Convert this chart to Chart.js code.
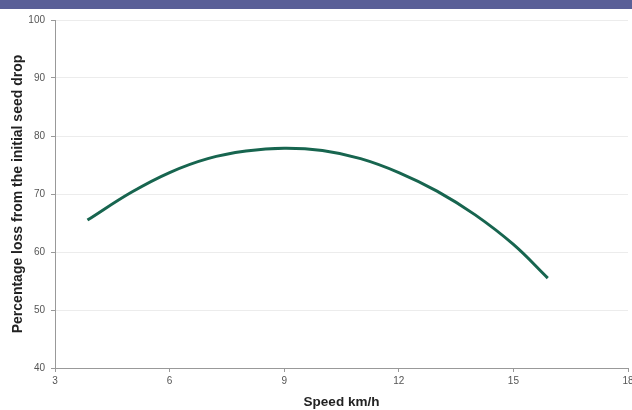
<!DOCTYPE html>
<html>
<head>
<meta charset="utf-8">
<script src="https://cdn.jsdelivr.net/npm/chart.js@4"></script>
<style>
  html, body { margin: 0; padding: 0; background: #fff; }
  #wrap { position: relative; width: 632px; height: 410px; }
  #banner { position: absolute; left: 0; top: 0; width: 632px; height: 9px; background: #5a5f97; }
  canvas { position: absolute; left: 0; top: 0; }
</style>
</head>
<body>
<div id="wrap">
  <canvas id="chart" width="632" height="410"></canvas>
  <div id="banner"></div>
</div>
<script>
// Data
var speeds = [3.85, 5, 6, 7, 8, 9, 10, 11, 12, 13, 14, 15, 15.9]
var lossValues = [65.5, 70.3, 73.7, 76.1, 77.4, 77.9, 77.5, 76.1, 73.7, 70.5, 66.4, 61.3, 55.5]
var xTicks = [3, 6, 9, 12, 15, 18]
var yTicks = [40, 50, 60, 70, 80, 90, 100]

var points = speeds.map(function (s, i) { return { x: s, y: lossValues[i] } })

Chart.defaults.font.family = '"Liberation Sans", Arial, sans-serif'
Chart.defaults.color = '#555'

new Chart(document.getElementById('chart').getContext('2d'), {
    type: 'line',
    data: {
        datasets: [{
            label: 'Loss',
            data: points,
            borderColor: '#17654f',
            borderWidth: 3,
            pointRadius: 0,
            tension: 0.4,
            fill: false
        }]
    },
    options: {
        responsive: false,
        animation: false,
        layout: { padding: { left: 0, right: 4, top: 20, bottom: 0 } },
        plugins: { legend: { display: false }, tooltip: { enabled: false } },
        scales: {
            x: {
                type: 'linear',
                min: 3,
                max: 18,
                afterBuildTicks: function (scale) {
                    scale.ticks = xTicks.map(function (v) { return { value: v } })
                },
                afterFit: function (scale) {
                    scale.height = 42
                    scale.paddingLeft = 0
                    scale.paddingRight = 0
                },
                grid: { drawOnChartArea: false, tickLength: 4, color: '#999' },
                border: { color: '#999', width: 1 },
                ticks: { font: { size: 10 }, color: '#555', padding: 3 },
                title: {
                    display: true,
                    text: 'Speed km/h',
                    font: { size: 13.5, weight: 'bold' },
                    color: '#222',
                    padding: { top: 0, bottom: 0 }
                }
            },
            y: {
                min: 40,
                max: 100,
                afterBuildTicks: function (scale) {
                    scale.ticks = yTicks.map(function (v) { return { value: v } })
                },
                afterFit: function (scale) {
                    scale.width = 55
                    scale.paddingTop = 0
                    scale.paddingBottom = 0
                },
                grid: { color: '#ececec', tickColor: '#999', tickLength: 4, lineWidth: 1 },
                border: { color: '#999', width: 1 },
                ticks: { font: { size: 10 }, color: '#555', padding: 6 },
                title: {
                    display: true,
                    text: 'Percentage loss from the initial seed drop',
                    font: { size: 14, weight: 'bold' },
                    color: '#222',
                    padding: { top: 10, bottom: 0 }
                }
            }
        }
    }
})
</script>
</body>
</html>
